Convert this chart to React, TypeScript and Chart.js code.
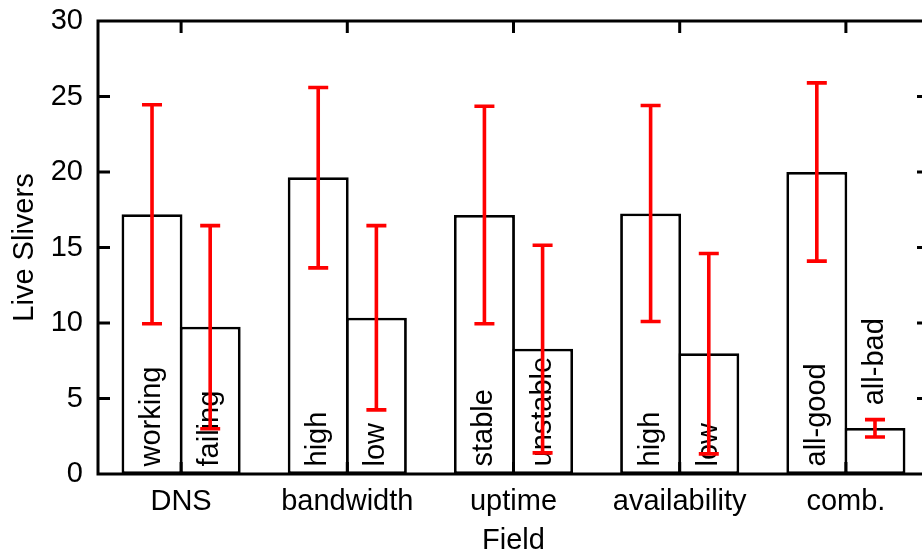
import React, { useEffect, useRef } from 'react';
import { Chart, registerables } from 'chart.js';

Chart.register(...registerables);

const categories = ['DNS', 'bandwidth', 'uptime', 'availability', 'comb.'];
const goodLabels = ['working', 'high', 'stable', 'high', 'all-good'];
const badLabels = ['failing', 'low', 'unstable', 'low', 'all-bad'];
const goodValues = [17.2, 19.65, 17.15, 17.25, 20.0];
const goodLow = [9.95, 13.65, 9.95, 10.1, 14.1];
const goodHigh = [24.45, 25.6, 24.35, 24.4, 25.9];
const badValues = [9.75, 10.35, 8.3, 8.0, 3.05];
const badLow = [3.0, 4.25, 1.4, 1.33, 2.45];
const badHigh = [16.45, 16.45, 15.15, 14.6, 3.6];
const yTickValues = [0, 5, 10, 15, 20, 25, 30];

const FONT = '"Liberation Sans", Arial, Helvetica, sans-serif';
const FS = 29;

const framePlugin = {
  id: 'gnuFrame',
  afterDatasetsDraw(chart: any) {
    const { ctx, chartArea: a, scales } = chart;
    const xs = scales.x;
    const ys = scales.y;
    ctx.save();
    // bar labels
    ctx.font = `${FS}px ${FONT}`;
    ctx.fillStyle = '#000';
    ctx.textAlign = 'left';
    ctx.textBaseline = 'middle';
    [goodLabels, badLabels].forEach((labels, di) => {
      const meta = chart.getDatasetMeta(di);
      const vals = di === 0 ? goodValues : badValues;
      meta.data.forEach((bar: any, i: number) => {
        const v = vals[i];
        const base = v > 5 ? 0.5 : v + 1.5;
        ctx.save();
        ctx.translate(bar.x, ys.getPixelForValue(base));
        ctx.rotate(-Math.PI / 2);
        ctx.fillText(labels[i], 0, 0);
        ctx.restore();
      });
    });
    // error bars
    ctx.strokeStyle = '#ff0000';
    ctx.lineWidth = 3.6;
    [[goodLow, goodHigh], [badLow, badHigh]].forEach(([lo, hi], di) => {
      const meta = chart.getDatasetMeta(di);
      meta.data.forEach((bar: any, i: number) => {
        const yl = ys.getPixelForValue(lo[i]);
        const yh = ys.getPixelForValue(hi[i]);
        const x = bar.x;
        ctx.beginPath();
        ctx.moveTo(x, yl);
        ctx.lineTo(x, yh);
        ctx.moveTo(x - 10, yl);
        ctx.lineTo(x + 10, yl);
        ctx.moveTo(x - 10, yh);
        ctx.lineTo(x + 10, yh);
        ctx.stroke();
      });
    });
    // frame + inward ticks
    ctx.strokeStyle = '#000';
    ctx.lineWidth = 3;
    ctx.beginPath();
    ctx.rect(a.left, a.top, a.right - a.left, a.bottom - a.top);
    yTickValues.forEach((v) => {
      const py = ys.getPixelForValue(v);
      ctx.moveTo(a.left, py);
      ctx.lineTo(a.left + 12, py);
      ctx.moveTo(a.right, py);
      ctx.lineTo(a.right - 12, py);
    });
    categories.forEach((_, i) => {
      const px = xs.getPixelForValue(i);
      ctx.moveTo(px, a.bottom);
      ctx.lineTo(px, a.bottom - 12);
      ctx.moveTo(px, a.top);
      ctx.lineTo(px, a.top + 12);
    });
    ctx.stroke();
    ctx.restore();
  },
};

export default function App() {
  const ref = useRef<HTMLCanvasElement>(null);
  useEffect(() => {
    if (!ref.current) return;
    const font = { size: FS, family: FONT };
    const chart = new Chart(ref.current, {
      type: 'bar',
      data: {
        labels: categories,
        datasets: [
          {
            data: goodValues,
            backgroundColor: '#ffffff',
            borderColor: '#000000',
            borderWidth: 2.8,
            borderSkipped: false,
            categoryPercentage: 0.7,
            barPercentage: 1.048,
          },
          {
            data: badValues,
            backgroundColor: '#ffffff',
            borderColor: '#000000',
            borderWidth: 2.8,
            borderSkipped: false,
            categoryPercentage: 0.7,
            barPercentage: 1.048,
          },
        ],
      },
      options: {
        responsive: false,
        animation: false,
        devicePixelRatio: 1,
        layout: { padding: { top: 21, right: 11, left: 0, bottom: 0 } },
        plugins: { legend: { display: false }, tooltip: { enabled: false } },
        scales: {
          x: {
            type: 'category',
            offset: true,
            grid: { display: false, drawTicks: false },
            border: { display: false },
            ticks: { font, color: '#000', padding: 11, maxRotation: 0, autoSkip: false },
            title: {
              display: true,
              text: 'Field',
              font: { size: FS, family: FONT, lineHeight: 0.9 },
              color: '#000',
              padding: { top: 10, bottom: 0 },
            },
            afterFit: (s: any) => {
              s.height = 80;
              s.paddingLeft = 0;
              s.paddingRight = 0;
            },
          },
          y: {
            min: 0,
            max: 30,
            grid: { display: false, drawTicks: false },
            border: { display: false },
            ticks: { stepSize: 5, font, color: '#000', padding: 15 },
            title: { display: true, text: 'Live Slivers', font, color: '#000', padding: { top: 8, bottom: 0 } },
            afterFit: (s: any) => {
              s.width = 98;
              s.paddingTop = 0;
              s.paddingBottom = 0;
            },
          },
        },
      },
      plugins: [framePlugin],
    } as any);
    return () => chart.destroy();
  }, []);
  return (
    <div style={{ position: 'absolute', left: 0, top: 0, width: 922, height: 554, overflow: 'hidden', background: '#fff' }}>
      <canvas ref={ref} width={940} height={554} style={{ display: 'block' }} />
    </div>
  );
}
